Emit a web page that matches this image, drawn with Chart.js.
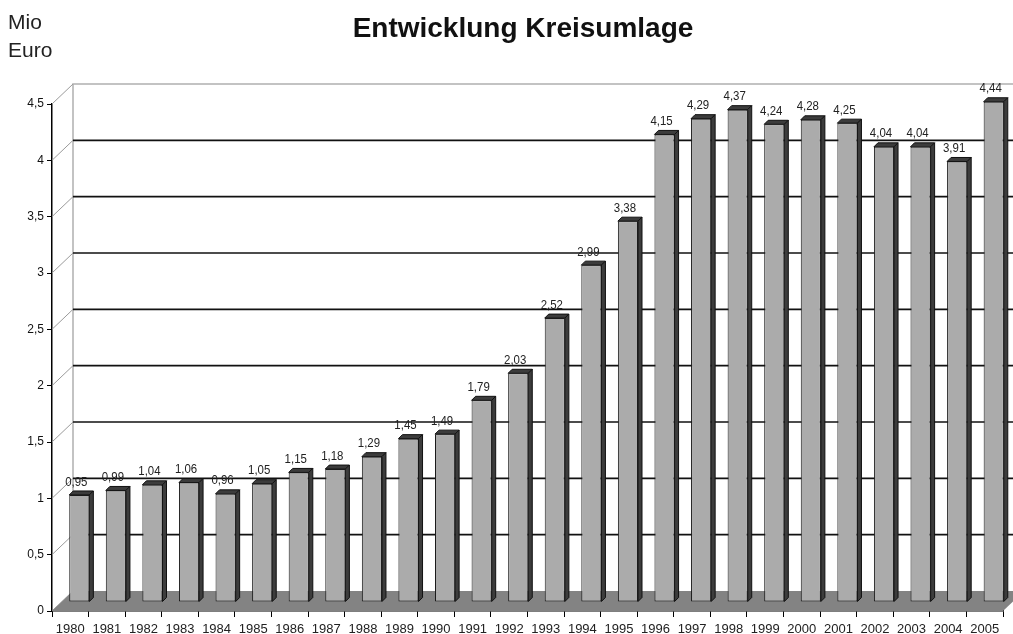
<!DOCTYPE html>
<html><head><meta charset="utf-8">
<script src="https://cdn.jsdelivr.net/npm/chart.js@4/dist/chart.umd.min.js"></script>
<style>html,body{margin:0;padding:0;background:#fff;}#wrap{width:1013px;height:634px;position:relative;}</style>
</head><body><div id="wrap"><canvas id="c" width="1013" height="634"></canvas></div>
<script>
const years = ['1980','1981','1982','1983','1984','1985','1986','1987','1988','1989','1990','1991','1992','1993','1994','1995','1996','1997','1998','1999','2000','2001','2002','2003','2004','2005'];
const values = [0.95,0.99,1.04,1.06,0.96,1.05,1.15,1.18,1.29,1.45,1.49,1.79,2.03,2.52,2.99,3.38,4.15,4.29,4.37,4.24,4.28,4.25,4.04,4.04,3.91,4.44];
const valueLabels = ['0,95','0,99','1,04','1,06','0,96','1,05','1,15','1,18','1,29','1,45','1,49','1,79','2,03','2,52','2,99','3,38','4,15','4,29','4,37','4,24','4,28','4,25','4,04','4,04','3,91','4,44'];
const yTicks = [0,0.5,1,1.5,2,2.5,3,3.5,4,4.5];
const yTickLabels = ['0','0,5','1','1,5','2','2,5','3','3,5','4','4,5'];
const titleText = 'Entwicklung Kreisumlage';
const unitLines = ['Mio','Euro'];

const FONT = '"Liberation Sans Narrow", "Liberation Sans", Arial, sans-serif';
const WALL_DX = 21, WALL_DY = -20;   // depth of the 3D box
const BAR_DX = 9, BAR_DY = -9;       // bars sit in the middle of the depth
const BAR_D = 4;                     // bar thickness (depth faces)

const scene3d = {
  id: 'scene3d',
  beforeDatasetsDraw(chart) {
    const {ctx, chartArea: a, scales: {x, y}} = chart;
    const W = chart.width;
    ctx.save();
    ctx.strokeStyle = '#b0b0b0';
    ctx.lineWidth = 1.5;
    ctx.beginPath();
    ctx.moveTo(a.left + WALL_DX, a.bottom + WALL_DY);
    ctx.lineTo(a.left + WALL_DX, a.top + WALL_DY);
    ctx.lineTo(W, a.top + WALL_DY);
    ctx.stroke();
    yTicks.forEach(v => {
      const py = y.getPixelForValue(v);
      ctx.strokeStyle = '#9a9a9a';
      ctx.lineWidth = 1;
      ctx.beginPath();
      ctx.moveTo(a.left, py);
      ctx.lineTo(a.left + WALL_DX, py + WALL_DY);
      ctx.stroke();
      if (v > 0 && v < 4.5) {
        ctx.strokeStyle = '#111';
        ctx.lineWidth = 1.6;
        ctx.beginPath();
        ctx.moveTo(a.left + WALL_DX, py + WALL_DY);
        ctx.lineTo(W, py + WALL_DY);
        ctx.stroke();
      }
    });
    ctx.fillStyle = '#838383';
    ctx.beginPath();
    ctx.moveTo(a.left, a.bottom);
    ctx.lineTo(a.right, a.bottom);
    ctx.lineTo(a.right + WALL_DX, a.bottom + WALL_DY);
    ctx.lineTo(a.left + WALL_DX, a.bottom + WALL_DY);
    ctx.closePath();
    ctx.fill();
    ctx.restore();

    ctx.save();
    ctx.translate(BAR_DX, BAR_DY);
    const meta = chart.getDatasetMeta(0);
    meta.data.forEach(el => {
      const p = el.getProps(['x','y','base','width'], true);
      const l = p.x - p.width / 2, r = p.x + p.width / 2;
      ctx.fillStyle = '#3c3c3c';
      ctx.strokeStyle = '#111';
      ctx.lineWidth = 1;
      ctx.beginPath();
      ctx.moveTo(l, p.y); ctx.lineTo(r, p.y);
      ctx.lineTo(r + BAR_D, p.y - BAR_D); ctx.lineTo(l + BAR_D, p.y - BAR_D);
      ctx.closePath(); ctx.fill(); ctx.stroke();
      ctx.beginPath();
      ctx.moveTo(r, p.y); ctx.lineTo(r + BAR_D, p.y - BAR_D);
      ctx.lineTo(r + BAR_D, p.base - BAR_D); ctx.lineTo(r, p.base);
      ctx.closePath(); ctx.fill(); ctx.stroke();
    });
  },
  afterDatasetsDraw(chart) {
    const {ctx} = chart;
    const meta = chart.getDatasetMeta(0);
    ctx.fillStyle = '#222';
    ctx.font = '13px ' + FONT;
    ctx.textAlign = 'center';
    ctx.textBaseline = 'middle';
    meta.data.forEach((el, i) => {
      ctx.save();
      ctx.translate(el.x - 3, el.y - 13);
      ctx.scale(0.88, 1);
      ctx.fillText(valueLabels[i], 0, 0);
      ctx.restore();
    });
    ctx.restore();
  },
  afterDraw(chart) {
    const {ctx} = chart;
    ctx.save();
    ctx.fillStyle = '#111';
    ctx.textBaseline = 'alphabetic';
    ctx.textAlign = 'center';
    ctx.font = 'bold 28px "Liberation Sans", Arial, sans-serif';
    ctx.fillText(titleText, 523, 37);
    ctx.textAlign = 'left';
    ctx.font = '21px "Liberation Sans", Arial, sans-serif';
    ctx.fillStyle = '#222';
    ctx.fillText(unitLines[0], 8, 29);
    ctx.fillText(unitLines[1], 8, 57);
    ctx.restore();
  }
};

new Chart(document.getElementById('c'), {
  type: 'bar',
  data: {
    labels: years,
    datasets: [{
      data: values,
      backgroundColor: '#ababab',
      borderColor: '#1a1a1a',
      borderWidth: 1,
      borderSkipped: false,
      barPercentage: 0.55,
      categoryPercentage: 1,
      clip: false
    }]
  },
  plugins: [scene3d],
  options: {
    responsive: false,
    devicePixelRatio: 1,
    animation: false,
    layout: {padding: {left: 0, right: 10, top: 104, bottom: 0}},
    plugins: {legend: {display: false}, title: {display: false}, tooltip: {enabled: false}},
    scales: {
      y: {
        min: 0, max: 4.5,
        afterBuildTicks: s => { s.ticks = yTicks.map(v => ({value: v})); },
        afterFit: s => { s.width = 52; },
        ticks: {
          callback: (v) => yTickLabels[yTicks.indexOf(v)] ?? '',
          font: {size: 12, family: FONT},
          color: '#111', padding: 3
        },
        grid: {drawOnChartArea: false, drawTicks: true, tickLength: 5, color: '#000', lineWidth: 1},
        border: {display: true, color: '#000', width: 1.5}
      },
      x: {
        afterFit: s => { s.height = 23; },
        ticks: {font: {size: 13, family: FONT}, color: '#222', padding: 5, maxRotation: 0, autoSkip: false},
        grid: {offset: true, drawOnChartArea: false, drawTicks: true, tickLength: 6, color: '#000', lineWidth: 1},
        border: {display: true, color: '#000', width: 1.5}
      }
    }
  }
});
</script></body></html>
